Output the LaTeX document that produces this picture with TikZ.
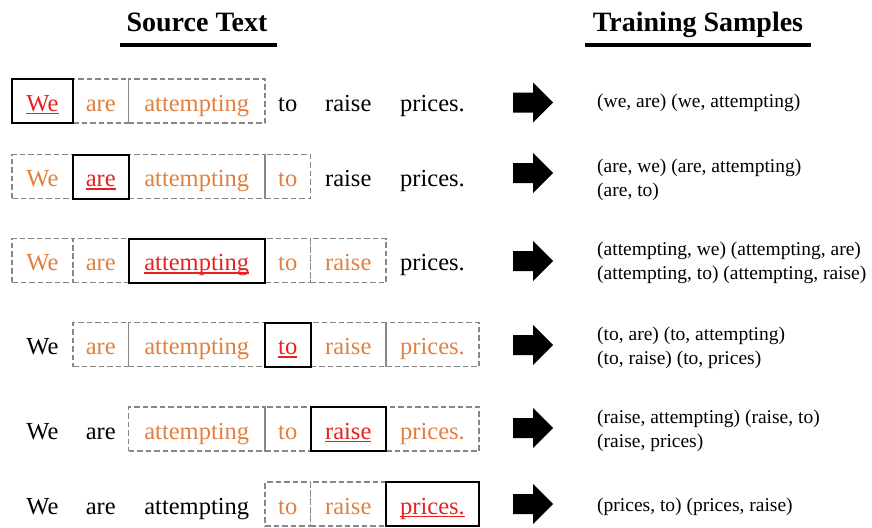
\documentclass[tikz,border=0pt]{standalone}
\usepackage{fontspec}
\setmainfont{Liberation Serif}
\definecolor{wred}{RGB}{232,32,32}
\definecolor{worange}{RGB}{225,128,62}
\definecolor{wgray}{RGB}{135,135,135}
\newcommand\redul[1]{\setbox0\hbox{#1}\rlap{\rule[-3pt]{\wd0}{1.3pt}}\box0}
\newcommand\bigarrow[1]{\fill (513,#1) ++(0,-10) -- ++(20,0) -- ++(0,-10) -- ++(20,20) -- ++(-20,20) -- ++(0,-10) -- ++(-20,0) -- cycle;}
\tikzset{
 word/.style={inner sep=0pt, minimum height=44pt, text height=20pt, text depth=0pt, font=\fontsize{24.5}{28}\selectfont},
 plainw/.style={word},
 ctxw/.style={word, draw=wgray, line width=1.8pt, dash pattern=on 5.5pt off 3pt, text=worange},
 tgtw/.style={word, draw=black, line width=2pt, text=wred},
 cWe/.style={minimum width=61pt},
 cAre/.style={minimum width=55.5pt},
 cAtt/.style={minimum width=136.5pt},
 cTo/.style={minimum width=45.5pt},
 cRai/.style={minimum width=75.5pt},
 cPri/.style={minimum width=93pt},
 head/.style={font=\fontsize{28}{32}\selectfont\bfseries, anchor=base, inner sep=0pt},
 headline/.style={line width=3.5pt},
 sample/.style={font=\fontsize{19.5}{23.5}\selectfont, anchor=base west, align=left, inner sep=0pt},
}
\begin{document}
\begin{tikzpicture}[x=1pt,y=-1pt]
\useasboundingbox (0,0) rectangle (872,527);
% headers
\node[head] (hsrc) at (197,32) {Source Text};
\coordinate (hsrcL) at (120,45); \coordinate (hsrcR) at (277,45);
\draw[headline] (hsrcL) -- (hsrcR);
\node[head] (htrn) at (698,32) {Training Samples};
\coordinate (htrnL) at (585,45); \coordinate (htrnR) at (811,45);
\draw[headline] (htrnL) -- (htrnR);
% row 1
\node[ctxw,cAre] (r1are) at (100.75,101) {are};
\node[ctxw,cAtt] (r1att) at (196.75,101) {attempting};
\node[plainw,cTo] (r1to) at (287.75,101) {to};
\node[plainw,cRai] (r1rai) at (348.25,101) {raise};
\node[plainw,cPri] (r1pri) at (432.5,101) {prices.};
\node[tgtw,cWe] (r1we) at (42.5,101) {\redul{We}};
% row 2
\node[ctxw,cWe] (r2we) at (42.5,176.5) {We};
\node[ctxw,cAtt] (r2att) at (196.75,176.5) {attempting};
\node[ctxw,cTo] (r2to) at (287.75,176.5) {to};
\node[plainw,cRai] (r2rai) at (348.25,176.5) {raise};
\node[plainw,cPri] (r2pri) at (432.5,176.5) {prices.};
\node[tgtw,cAre] (r2are) at (100.75,176.5) {\redul{are}};
% row 3
\node[ctxw,cWe] (r3we) at (42.5,260.5) {We};
\node[ctxw,cAre] (r3are) at (100.75,260.5) {are};
\node[ctxw,cTo] (r3to) at (287.75,260.5) {to};
\node[ctxw,cRai] (r3rai) at (348.25,260.5) {raise};
\node[plainw,cPri] (r3pri) at (432.5,260.5) {prices.};
\node[tgtw,cAtt] (r3att) at (196.75,260.5) {\redul{attempting}};
% row 4
\node[plainw,cWe] (r4we) at (42.5,344.5) {We};
\node[ctxw,cAre] (r4are) at (100.75,344.5) {are};
\node[ctxw,cAtt] (r4att) at (196.75,344.5) {attempting};
\node[ctxw,cRai] (r4rai) at (348.25,344.5) {raise};
\node[ctxw,cPri] (r4pri) at (432.5,344.5) {prices.};
\node[tgtw,cTo] (r4to) at (287.75,344.5) {\redul{to}};
% row 5
\node[plainw,cWe] (r5we) at (42.5,429) {We};
\node[plainw,cAre] (r5are) at (100.75,429) {are};
\node[ctxw,cAtt] (r5att) at (196.75,429) {attempting};
\node[ctxw,cTo] (r5to) at (287.75,429) {to};
\node[ctxw,cPri] (r5pri) at (432.5,429) {prices.};
\node[tgtw,cRai] (r5rai) at (348.25,429) {\redul{raise}};
% row 6
\node[plainw,cWe] (r6we) at (42.5,504) {We};
\node[plainw,cAre] (r6are) at (100.75,504) {are};
\node[plainw,cAtt] (r6att) at (196.75,504) {attempting};
\node[ctxw,cTo] (r6to) at (287.75,504) {to};
\node[ctxw,cRai] (r6rai) at (348.25,504) {raise};
\node[tgtw,cPri] (r6pri) at (432.5,504) {\redul{prices.}};
% arrows
\bigarrow{102.5}
\bigarrow{173}
\bigarrow{261}
\bigarrow{345}
\bigarrow{428}
\bigarrow{504}
% samples (base anchor = baseline of last line)
\node[sample] (s1) at (597,107) {(we, are) (we, attempting)};
\node[sample] (s2) at (597,196) {(are, we) (are, attempting)\\(are, to)};
\node[sample] (s3) at (597,279) {(attempting, we) (attempting, are)\\(attempting, to) (attempting, raise)};
\node[sample] (s4) at (597,364) {(to, are) (to, attempting)\\(to, raise) (to, prices)};
\node[sample] (s5) at (597,447) {(raise, attempting) (raise, to)\\(raise, prices)};
\node[sample] (s6) at (597,511) {(prices, to) (prices, raise)};
\end{tikzpicture}
\end{document}
